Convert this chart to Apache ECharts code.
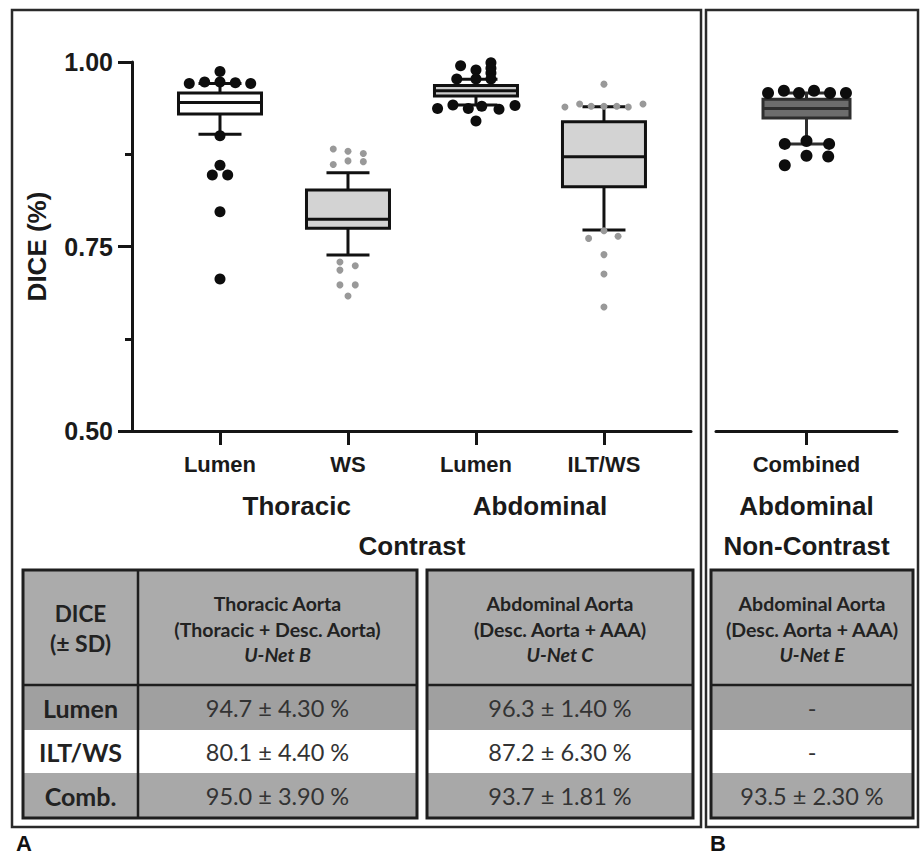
<!DOCTYPE html>
<html><head><meta charset="utf-8">
<script src="https://cdn.jsdelivr.net/npm/echarts@6/dist/echarts.min.js"></script>
<style>html,body{margin:0;padding:0;background:#fff}#c{width:924px;height:857px}</style>
</head><body><div id="c"></div>
<script>
// ---------------- data ----------------
const categoriesA = ['Lumen', 'WS', 'Lumen', 'ILT/WS'];
const categoryPosA = [1, 2, 3, 4];
const groupLabelsA = ['Thoracic', 'Abdominal'];
const groupPosA = [1.6, 3.5];
const superLabelA = 'Contrast';
const superPosA = [2.5];
const categoriesB = ['Combined'];
const categoryPosB = [1];
const groupLabelB = 'Abdominal';
const superLabelB = 'Non-Contrast';
const yTickValues = [0.5, 0.75, 1.0];

// [position, lower whisker, Q1, median, Q3, upper whisker]
const boxesA = [
  [1, 0.902, 0.9295, 0.945, 0.958, 0.971],
  [2, 0.7385, 0.7747, 0.787, 0.8266, 0.850],
  [3, 0.9417, 0.954, 0.961, 0.968, 0.9766],
  [4, 0.7724, 0.831, 0.8717, 0.9192, 0.9394]
];
const boxesB = [
  [1, 0.889, 0.924, 0.937, 0.9495, 0.958]
];
// outlier points [position, DICE]
const pointsThoracicLumen = [
  [0.76, 0.971], [0.88, 0.973], [1.0, 0.973], [1.12, 0.972], [1.24, 0.971], [1.0, 0.987],
  [1.0, 0.900], [1.0, 0.860], [0.94, 0.847], [1.06, 0.847], [1.0, 0.797], [1.0, 0.706]
];
const pointsThoracicWS = [
  [1.885, 0.882], [2.0, 0.879], [2.12, 0.876], [1.885, 0.861], [2.0, 0.866], [2.12, 0.865],
  [1.937, 0.729], [1.937, 0.718], [2.057, 0.724], [1.937, 0.698], [2.057, 0.698], [2.0, 0.683]
];
const pointsAbdominalLumen = [
  [2.88, 0.995], [3.0, 0.989], [3.117, 0.999], [3.117, 0.9915], [3.117, 0.985],
  [2.85, 0.977], [3.0, 0.977], [3.117, 0.977],
  [2.7, 0.937], [2.82, 0.9417], [2.94, 0.937], [3.045, 0.940], [3.18, 0.936], [3.305, 0.941], [3.0, 0.920]
];
const pointsAbdominalILT = [
  [3.695, 0.939], [3.81, 0.943], [3.9, 0.940], [4.0, 0.940], [4.1, 0.940], [4.19, 0.939], [4.305, 0.943], [4.0, 0.970],
  [3.88, 0.761], [4.11, 0.764], [4.0, 0.7714], [4.0, 0.739], [4.0, 0.7127], [4.0, 0.668]
];
const pointsNonContrast = [
  [0.575, 0.958], [0.75, 0.961], [0.917, 0.958], [1.083, 0.961], [1.26, 0.958], [1.436, 0.958],
  [0.76, 0.889], [1.0, 0.893], [1.25, 0.889], [1.0, 0.873], [1.24, 0.872], [0.76, 0.860]
];

// table
const tableCorner = ['DICE', '(± SD)'];
const headerThoracic = ['Thoracic Aorta', '(Thoracic + Desc. Aorta)', 'U-Net B'];
const headerAbdominal = ['Abdominal Aorta', '(Desc. Aorta + AAA)', 'U-Net C'];
const headerNonContrast = ['Abdominal Aorta', '(Desc. Aorta + AAA)', 'U-Net E'];
const rowLabels = ['Lumen', 'ILT/WS', 'Comb.'];
const valuesThoracic = ['94.7 ± 4.30 %', '80.1 ± 4.40 %', '95.0 ± 3.90 %'];
const valuesAbdominal = ['96.3 ± 1.40 %', '87.2 ± 6.30 %', '93.7 ± 1.81 %'];
const valuesNonContrast = ['-', '-', '93.5 ± 2.30 %'];
const panelLabels = ['A', 'B'];

// ---------------- styling / layout ----------------
const AX = '#151515';
const FONT = '"Liberation Sans", Arial, sans-serif';
const TFONT = 'Lato, "Open Sans", sans-serif';
const boxFillsA = ['#ffffff', '#d3d3d3', '#cdcdcd', '#d3d3d3'];
const boxFillsB = ['#6d6d6d'];

function boxRenderer(fills, stroke, boxW, capW) {
  return function (params, api) {
    const x = api.value(0);
    const p = i => api.coord([x, api.value(i)]);
    const lo = p(1), q1 = p(2), md = p(3), q3 = p(4), hi = p(5);
    const cx = lo[0];
    const ls = { stroke: stroke, lineWidth: 3 };
    return {
      type: 'group',
      children: [
        { type: 'line', shape: { x1: cx, y1: hi[1], x2: cx, y2: q3[1] }, style: ls },
        { type: 'line', shape: { x1: cx, y1: q1[1], x2: cx, y2: lo[1] }, style: ls },
        { type: 'line', shape: { x1: cx - capW / 2, y1: hi[1], x2: cx + capW / 2, y2: hi[1] }, style: ls },
        { type: 'line', shape: { x1: cx - capW / 2, y1: lo[1], x2: cx + capW / 2, y2: lo[1] }, style: ls },
        { type: 'rect', shape: { x: cx - boxW / 2, y: q3[1], width: boxW, height: q1[1] - q3[1] },
          style: { fill: fills[params.dataIndex], stroke: stroke, lineWidth: 3 } },
        { type: 'line', shape: { x1: cx - boxW / 2, y1: md[1], x2: cx + boxW / 2, y2: md[1] }, style: ls }
      ]
    };
  };
}

function labelAxis(grid, min, max, offset, vals, names, size, withLine) {
  return {
    type: 'value', gridIndex: grid, min: min, max: max, position: 'bottom', offset: offset,
    splitLine: { show: false },
    axisLine: { show: withLine, onZero: false, lineStyle: { color: AX, width: 3 } },
    axisTick: { show: withLine, customValues: vals, length: 14, lineStyle: { color: AX, width: 3 } },
    axisLabel: {
      customValues: vals, margin: 22, color: '#1a1a1a', fontFamily: FONT, fontWeight: 'bold', fontSize: size,
      formatter: v => { const i = vals.indexOf(v); return i >= 0 ? names[i] : ''; }
    }
  };
}

// graphic: frames + tables
const graphic = [];
function rect(x, y, w, h, fill, stroke, lw) {
  graphic.push({ type: 'rect', shape: { x: x, y: y, width: w, height: h },
    style: { fill: fill || 'none', stroke: stroke || null, lineWidth: lw || 0 }, silent: true });
}
function line(x1, y1, x2, y2, lw) {
  graphic.push({ type: 'line', shape: { x1: x1, y1: y1, x2: x2, y2: y2 }, style: { stroke: '#1e1e1e', lineWidth: lw }, silent: true });
}
function text(t, x, y, size, weight, style, color, family) {
  graphic.push({ type: 'text', x: x, y: y, silent: true,
    style: { text: t, fontSize: size, fontWeight: weight || 'normal', fontStyle: style || 'normal',
      fontFamily: family || TFONT, fill: color || '#222', align: 'center', verticalAlign: 'middle' } });
}
// frames
rect(12, 10, 689, 817, null, '#2a2a2a', 2.5);
rect(706, 10, 212, 817, null, '#2a2a2a', 2.5);

const rowsY = [570, 685, 730, 773, 818];
const rowFills = ['#ababab', '#a0a0a0', '#ffffff', '#a8a8a8'];
function table(x0, x1, header, values, withLabels, xl) {
  const left = withLabels ? xl : x0;
  for (let r = 0; r < 4; r++) rect(left, rowsY[r], x1 - left, rowsY[r + 1] - rowsY[r], rowFills[r]);
  const cx = (x0 + x1) / 2;
  text(header[0], cx, 603, 19.5, 'bold');
  text(header[1], cx, 629, 19.5, 'bold');
  text(header[2], cx, 654, 19.5, 'bold', 'italic');
  for (let r = 0; r < 3; r++) text(values[r], cx, (rowsY[r + 1] + rowsY[r + 2]) / 2, 23.5, 'normal', 'normal', '#333');
  if (withLabels) {
    const lx = (xl + x0) / 2;
    text(tableCorner[0], lx, 613, 22.5, 'bold');
    text(tableCorner[1], lx, 643, 23, 'bold');
    for (let r = 0; r < 3; r++) text(rowLabels[r], lx, (rowsY[r + 1] + rowsY[r + 2]) / 2, 25, 'bold');
    line(x0, rowsY[0], x0, rowsY[4], 2.5);
  }
  line(left, rowsY[1], x1, rowsY[1], 2.5);
  rect(left, rowsY[0], x1 - left, rowsY[4] - rowsY[0], null, '#1e1e1e', 3);
}
table(138, 417, headerThoracic, valuesThoracic, true, 23);
table(427, 693, headerAbdominal, valuesAbdominal, false);
table(711, 913, headerNonContrast, valuesNonContrast, false);
text(panelLabels[0], 24, 843, 22, 'bold', 'normal', '#111', FONT);
text(panelLabels[1], 718, 843, 22, 'bold', 'normal', '#111', FONT);

const option = {
  backgroundColor: '#ffffff',
  animation: false,
  grid: [
    { left: 132, top: 62, width: 559, height: 369 },
    { left: 716, top: 62, width: 181, height: 369 }
  ],
  xAxis: [
    labelAxis(0, 0.3125, 4.68, 0, categoryPosA, categoriesA, 22, true),
    labelAxis(0, 0.3125, 4.68, 40, groupPosA, groupLabelsA, 26, false),
    labelAxis(0, 0.3125, 4.68, 80, superPosA, [superLabelA], 26, false),
    labelAxis(1, 0, 2, 0, categoryPosB, categoriesB, 22, true),
    labelAxis(1, 0, 2, 40, categoryPosB, [groupLabelB], 26, false),
    labelAxis(1, 0, 2, 80, categoryPosB, [superLabelB], 26, false)
  ],
  yAxis: [
    {
      type: 'value', gridIndex: 0, min: yTickValues[0], max: yTickValues[yTickValues.length - 1], interval: 0.25,
      name: 'DICE (%)', nameLocation: 'middle', nameRotate: 90, nameGap: 82,
      nameTextStyle: { fontFamily: FONT, fontWeight: 'bold', fontSize: 26, color: '#1a1a1a' },
      splitLine: { show: false },
      axisLine: { show: true, lineStyle: { color: AX, width: 3 } },
      axisTick: { show: true, length: 14, lineStyle: { color: AX, width: 3 } },
      minorTick: { show: true, splitNumber: 2, length: 7, lineStyle: { color: AX, width: 3 } },
      axisLabel: { margin: 19, fontFamily: FONT, fontWeight: 'bold', fontSize: 25, color: '#1a1a1a',
        formatter: v => v.toFixed(2) }
    },
    { type: 'value', gridIndex: 1, min: 0.5, max: 1, show: false, splitLine: { show: false } }
  ],
  graphic: graphic,
  series: [
    { type: 'custom', xAxisIndex: 0, yAxisIndex: 0, renderItem: boxRenderer(boxFillsA, '#111', 83, 43),
      encode: { x: 0, y: [1, 2, 3, 4, 5] }, data: boxesA, z: 2 },
    { type: 'custom', xAxisIndex: 3, yAxisIndex: 1, renderItem: boxRenderer(boxFillsB, '#2e2e2e', 87, 43),
      encode: { x: 0, y: [1, 2, 3, 4, 5] }, data: boxesB, z: 2 },
    { type: 'scatter', xAxisIndex: 0, yAxisIndex: 0, data: pointsThoracicLumen.concat(pointsAbdominalLumen),
      symbolSize: 11, itemStyle: { color: '#0d0d0d', opacity: 1 }, z: 5 },
    { type: 'scatter', xAxisIndex: 0, yAxisIndex: 0, data: pointsThoracicWS.concat(pointsAbdominalILT),
      symbolSize: 7, itemStyle: { color: '#999999', opacity: 1 }, z: 5 },
    { type: 'scatter', xAxisIndex: 3, yAxisIndex: 1, data: pointsNonContrast,
      symbolSize: 12, itemStyle: { color: '#0d0d0d', opacity: 1 }, z: 5 }
  ]
};
const chart = echarts.init(document.getElementById('c'), null, { renderer: 'svg' });
chart.setOption(option);
</script>
</body></html>
